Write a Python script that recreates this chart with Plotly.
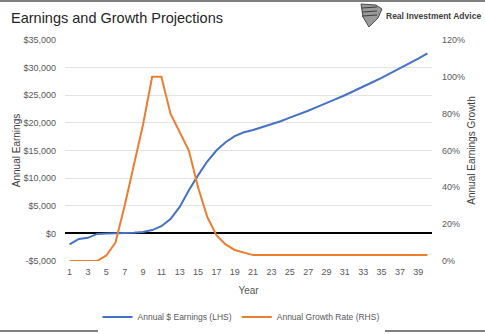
import plotly.graph_objects as go

years = list(range(1, 41))
earnings = [-2000, -1000, -800, -100, 0, 0, 50, 100, 250, 600,
            1300, 2600, 4800, 7800, 10500, 13000, 15000, 16500, 17600, 18300,
            18700, 19200, 19750, 20300, 20950, 21550, 22200, 22900, 23550, 24300,
            25000, 25750, 26550, 27350, 28150, 29000, 29850, 30750, 31650, 32600]
growth = [0, 0, 0, 0, 3, 10, 30, 52, 74, 100,
          100, 80, 70, 60, 40, 24, 14, 9, 6, 4.5,
          3.2, 3.2, 3.2, 3.2, 3.2, 3.2, 3.2, 3.2, 3.2, 3.2,
          3.2, 3.2, 3.2, 3.2, 3.2, 3.2, 3.2, 3.2, 3.2, 3.2]
left_ticks = [-5000, 0, 5000, 10000, 15000, 20000, 25000, 30000, 35000]
left_labels = ["-$5,000", "$0", "$5,000", "$10,000", "$15,000", "$20,000", "$25,000", "$30,000", "$35,000"]
right_ticks = [0, 20, 40, 60, 80, 100, 120]
right_labels = ["0%", "20%", "40%", "60%", "80%", "100%", "120%"]
x_ticks = list(range(1, 40, 2))

BLUE = "#4472C4"
ORANGE = "#ED7D31"
GRAY = "#595959"
FONT = "Liberation Sans"

L, R, T, B = 65, 53, 40, 73
PW, PH = 485 - L - R, 334 - T - B

def px(x):
    return (x - L) / PW

def py(y):
    return (334 - B - y) / PH

fig = go.Figure()
fig.add_trace(go.Scatter(x=years, y=earnings, mode="lines", name="Annual $ Earnings (LHS)",
                         line=dict(color=BLUE, width=2), yaxis="y"))
fig.add_trace(go.Scatter(x=years, y=growth, mode="lines", name="Annual Growth Rate (RHS)",
                         line=dict(color=ORANGE, width=2), yaxis="y2"))

fig.update_layout(
    width=485, height=334,
    margin=dict(l=L, r=R, t=T, b=B, autoexpand=False),
    paper_bgcolor="white", plot_bgcolor="white",
    font=dict(family=FONT, color=GRAY, size=9),
    showlegend=True,
    legend=dict(orientation="h", x=0.497, xref="container", xanchor="center",
                y=1 - 317 / 334, yref="container", yanchor="middle",
                font=dict(size=8.5, color=GRAY), traceorder="normal", itemwidth=30),
    xaxis=dict(range=[0.5, 40.5], tickvals=x_ticks, ticktext=[str(v) for v in x_ticks],
               showgrid=False, zeroline=False, showline=False, ticks="",
               ticklabelstandoff=4, automargin=False,
               title=dict(text="Year", font=dict(size=10, color=GRAY), standoff=10)),
    yaxis=dict(range=[-5000, 35000], tickvals=left_ticks, ticktext=left_labels,
               showgrid=True, gridcolor="#E3E3E3", gridwidth=1,
               zeroline=True, zerolinecolor="black", zerolinewidth=2,
               showline=False, ticks="", ticklabelstandoff=8, automargin=False,
               title=dict(text="Annual Earnings", font=dict(size=10, color="#404040"), standoff=0)),
    yaxis2=dict(range=[0, 120], tickvals=right_ticks, ticktext=right_labels,
                overlaying="y", side="right", showgrid=False, zeroline=False,
                showline=False, ticks="", ticklabelstandoff=9, automargin=False,
                title=dict(text="Annual Earnings Growth", font=dict(size=10, color="#404040"), standoff=3)),
)

fig.add_annotation(text="Earnings and Growth Projections", xref="paper", yref="paper",
                   x=px(9), y=py(18), xanchor="left", yanchor="middle", showarrow=False,
                   font=dict(family=FONT, size=14.5, color="#262626"))
fig.add_annotation(text="<b>Real Investment Advice</b>", xref="paper", yref="paper",
                   x=px(483), y=py(16), xanchor="right", yanchor="middle", showarrow=False,
                   font=dict(family=FONT, size=8.5, color="#404040"))
# logo mark: stylised eagle head
fig.add_shape(type="path", xref="paper", yref="paper",
              path="M %f %f L %f %f L %f %f L %f %f L %f %f L %f %f Z" % (
                  px(361), py(4), px(376), py(5), px(382), py(9), px(378), py(18),
                  px(369), py(27), px(363), py(17)),
              fillcolor="#9A9A9A", line=dict(color="#4D4D4D", width=1))
for yy in (8, 12, 16):
    fig.add_shape(type="line", xref="paper", yref="paper",
                  x0=px(362), x1=px(377), y0=py(yy), y1=py(yy - 1),
                  line=dict(color="#3F3F3F", width=1.2))
# frame lines
fig.add_shape(type="line", xref="paper", yref="paper", x0=px(0), x1=px(485),
              y0=py(1), y1=py(1), line=dict(color="#7F7F7F", width=2))
fig.add_shape(type="line", xref="paper", yref="paper", x0=px(0), x1=px(485),
              y0=py(331), y1=py(331), line=dict(color="#7F7F7F", width=2))

fig.write_html("out.html")
